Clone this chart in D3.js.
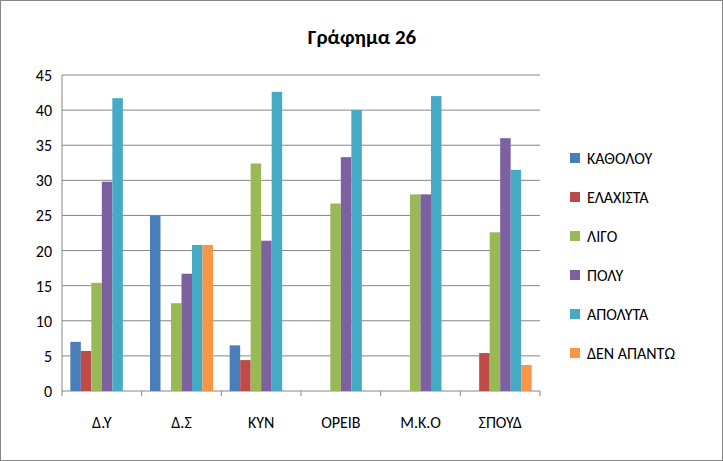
<!DOCTYPE html>
<html><head><meta charset="utf-8">
<script src="https://cdn.jsdelivr.net/npm/d3@7"></script>
<style>body{margin:0;background:#fff}text{font-family:Calibri,Carlito,"Liberation Sans",Arial,sans-serif}</style>
</head><body>
<svg id="c" width="723" height="461"></svg>
<script>
const categories=["Δ.Υ","Δ.Σ","ΚΥΝ","ΟΡΕΙΒ","Μ.Κ.Ο","ΣΠΟΥΔ"];
const seriesNames=["ΚΑΘΟΛΟΥ","ΕΛΑΧΙΣΤΑ","ΛΙΓΟ","ΠΟΛΥ","ΑΠΟΛΥΤΑ","ΔΕΝ ΑΠΑΝΤΩ"];
const kathолou=null;
const s0=[7.0,25,6.5,0,0,0];
const s1=[5.7,0,4.4,0,0,5.4];
const s2=[15.4,12.5,32.4,26.7,28,22.6];
const s3=[29.8,16.7,21.4,33.3,28,36];
const s4=[41.7,20.8,42.6,40,42,31.5];
const s5=[0,20.8,0,0,0,3.7];
const series=[s0,s1,s2,s3,s4,s5];
const colors=["#4a7ebb","#be4b48","#98b954","#7d60a0","#46aac5","#f79646"];
const yTicks=[0,5,10,15,20,25,30,35,40,45];

const svg=d3.select("#c");
svg.append("rect").attr("x",0.5).attr("y",0.5).attr("width",722).attr("height",460).attr("fill","#fff").attr("stroke","#868686");
svg.append("text").attr("x",362).attr("y",44).attr("text-anchor","middle").attr("font-size",21).attr("font-weight","bold").text("Γράφημα 26");
const L=62,R=540,T=75,B=391;
const x=d3.scaleBand().domain(categories).range([L,R]);
const xi=d3.scaleBand().domain(d3.range(6)).range([0,63]);
const y=d3.scaleLinear().domain([0,45]).range([B,T]);
svg.append("g").selectAll("line").data(yTicks).join("line")
 .attr("x1",L).attr("x2",R).attr("y1",d=>y(d)).attr("y2",d=>y(d)).attr("stroke","#868686");
svg.append("line").attr("x1",L).attr("x2",L).attr("y1",T).attr("y2",B).attr("stroke","#868686");
svg.append("g").selectAll("line").data(d3.range(7)).join("line")
 .attr("x1",d=>L+d*x.step()).attr("x2",d=>L+d*x.step()).attr("y1",B).attr("y2",B+5).attr("stroke","#868686");
svg.append("g").selectAll("text").data(yTicks).join("text")
 .attr("x",L-10).attr("y",d=>y(d)+6).attr("text-anchor","end").attr("font-size",16).text(d=>d);
svg.append("g").selectAll("text").data(categories).join("text")
 .attr("x",d=>x(d)+x.bandwidth()/2).attr("y",B+37).attr("text-anchor","middle").attr("font-size",16).text(d=>d);
series.forEach((s,i)=>{
 svg.append("g").selectAll("rect").data(s).join("rect")
  .attr("x",(d,j)=>x(categories[j])+(x.bandwidth()-63)/2+xi(i))
  .attr("width",xi.bandwidth()).attr("y",d=>y(d)).attr("height",d=>B-y(d)).attr("fill",colors[i]);
});
const lg=svg.append("g").selectAll("g").data(seriesNames).join("g").attr("transform",(d,i)=>`translate(570,${158+i*39})`);
lg.append("rect").attr("x",0).attr("y",-5).attr("width",10).attr("height",10).attr("fill",(d,i)=>colors[i]);
lg.append("text").attr("x",17).attr("y",6).attr("font-size",16).text(d=>d);
</script></body></html>
